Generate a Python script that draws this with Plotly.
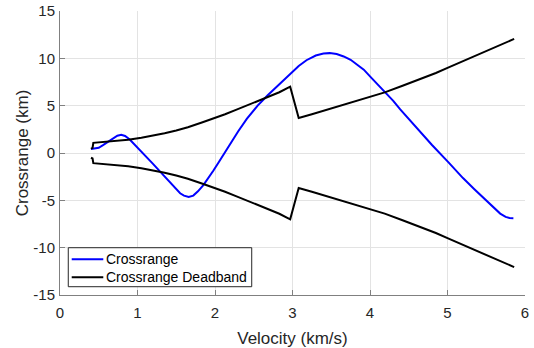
import plotly.graph_objects as go

# Crossrange trajectory (km) vs velocity (km/s)
cr_vel = [0.40, 0.45, 0.50, 0.56, 0.62, 0.68, 0.74, 0.79, 0.84, 0.90, 0.96, 1.02,
          1.10, 1.20, 1.31, 1.40, 1.48, 1.55, 1.60, 1.66, 1.72, 1.78, 1.85, 1.92,
          1.98, 2.05, 2.12, 2.20, 2.30, 2.41, 2.55, 2.68, 2.82, 2.97, 3.08, 3.18,
          3.30, 3.40, 3.48, 3.57, 3.66, 3.75, 3.83, 3.92, 4.00, 4.10, 4.19, 4.30,
          4.39, 4.52, 4.65, 4.80, 5.01, 5.20, 5.35, 5.50, 5.60, 5.68, 5.75, 5.80, 5.85]
cr_val = [0.42, 0.45, 0.55, 0.85, 1.20, 1.55, 1.82, 1.92, 1.80, 1.42, 0.92, 0.40,
          -0.30, -1.15, -2.13, -2.95, -3.70, -4.25, -4.50, -4.65, -4.50, -4.05, -3.40, -2.60,
          -1.85, -0.95, 0.00, 1.00, 2.30, 3.60, 5.00, 6.10, 7.20, 8.30, 9.20, 9.80,
          10.30, 10.50, 10.55, 10.45, 10.20, 9.85, 9.40, 8.80, 8.10, 7.25, 6.45, 5.50,
          4.60, 3.40, 2.20, 0.85, -0.97, -2.65, -3.85, -5.00, -5.85, -6.40, -6.75, -6.87, -6.88]

# Crossrange deadband (km) vs velocity (km/s)
db_vel = [0.40, 0.42, 0.43, 0.55, 0.70, 0.88, 1.05, 1.20, 1.35, 1.50, 1.65, 1.84,
          2.00, 2.13, 2.27, 2.41, 2.55, 2.69, 2.83, 2.97, 3.08, 3.25, 3.48, 3.75,
          4.00, 4.19, 4.42, 4.65, 4.85, 5.00, 5.20, 5.40, 5.60, 5.86]
db_upper = [0.45, 0.55, 1.07, 1.15, 1.25, 1.40, 1.60, 1.82, 2.08, 2.38, 2.72, 3.25,
            3.70, 4.10, 4.55, 5.00, 5.45, 5.90, 6.42, 7.00, 3.70, 4.10, 4.66, 5.30,
            5.90, 6.40, 7.10, 7.80, 8.45, 9.00, 9.70, 10.40, 11.15, 12.05]
db_lower = [-0.50, -0.58, -1.07, -1.15, -1.25, -1.40, -1.60, -1.82, -2.08, -2.38, -2.72, -3.25,
            -3.70, -4.10, -4.55, -5.00, -5.45, -5.90, -6.42, -7.00, -3.70, -4.10, -4.66, -5.30,
            -5.90, -6.40, -7.10, -7.80, -8.45, -9.00, -9.70, -10.40, -11.15, -12.05]

x_ticks = [0, 1, 2, 3, 4, 5, 6]
y_ticks = [-15, -10, -5, 0, 5, 10, 15]

font_family = "Liberation Sans, Arial, sans-serif"
axis_color = "#262626"
grid_color = "#e3e3e3"

fig = go.Figure()
fig.add_trace(go.Scatter(x=cr_vel, y=cr_val, mode="lines", name="Crossrange",
                         line=dict(color="#0000ff", width=2), showlegend=False))
fig.add_trace(go.Scatter(x=db_vel, y=db_upper, mode="lines", name="Crossrange Deadband",
                         line=dict(color="#000000", width=2), showlegend=False))
fig.add_trace(go.Scatter(x=db_vel, y=db_lower, mode="lines", name="Crossrange Deadband",
                         line=dict(color="#000000", width=2), showlegend=False))

# Compact MATLAB-style legend box, built from the first two traces
legend_box = dict(x0=0.0178, x1=0.4123, y0=0.0292, y1=0.1665)
legend_rows = [0.1257, 0.0623]
fig.add_shape(type="rect", xref="paper", yref="paper", **legend_box,
              line=dict(color=axis_color, width=1), fillcolor="white", layer="above")
for tr, yr in zip(fig.data[:2], legend_rows):
    fig.add_shape(type="line", xref="paper", yref="paper",
                  x0=0.0252, x1=0.0931, y0=yr, y1=yr,
                  line=dict(color=tr.line.color, width=2), layer="above")
    fig.add_annotation(xref="paper", yref="paper", x=0.0955, y=yr,
                       xanchor="left", yanchor="middle", showarrow=False,
                       text=tr.name, font=dict(size=14, color="#000000"))

fig.update_layout(
    width=534, height=348,
    margin=dict(l=60, r=9, t=11, b=53, autoexpand=False),
    paper_bgcolor="white", plot_bgcolor="white",
    font=dict(family=font_family, size=14, color=axis_color),
    showlegend=False,
    xaxis=dict(
        range=[0, 6], tickvals=x_ticks, ticktext=[str(v) for v in x_ticks],
        showgrid=True, gridcolor=grid_color, gridwidth=1,
        showline=True, linecolor="#808080", linewidth=1,
        ticks="inside", ticklen=5, tickcolor="#808080",
        zeroline=False, automargin=False, ticklabelstandoff=4,
        title=dict(text="Velocity (km/s)", font=dict(size=17, color=axis_color), standoff=12),
        tickfont=dict(size=15, color=axis_color),
    ),
    yaxis=dict(
        range=[-15, 15], tickvals=y_ticks, ticktext=[str(v) for v in y_ticks],
        showgrid=True, gridcolor=grid_color, gridwidth=1,
        showline=True, linecolor="#808080", linewidth=1,
        ticks="inside", ticklen=5, tickcolor="#808080",
        zeroline=False, automargin=False, ticklabelstandoff=1,
        title=dict(text="Crossrange (km)", font=dict(size=17, color=axis_color), standoff=0),
        tickfont=dict(size=15, color=axis_color),
    ),
)

fig.write_html("out.html", config={"displayModeBar": False},
               post_script="document.body.style.margin='0';")
